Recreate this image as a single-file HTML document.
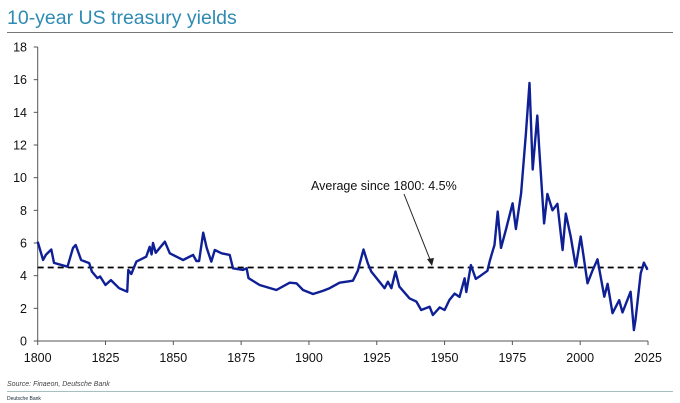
<!DOCTYPE html>
<html><head><meta charset="utf-8"><style>
body{margin:0;background:#fff;}
svg{display:block;font-family:"Liberation Sans",Arial,sans-serif;}
</style></head><body>
<svg width="680" height="403" viewBox="0 0 680 403">
<text x="7" y="24" font-size="19.5" fill="#2e8bb3">10-year US treasury yields</text>
<line x1="7" y1="32.5" x2="673" y2="32.5" stroke="#777" stroke-width="1"/>
<g id="axes"></g>
<g id="plot"></g>
<text x="311" y="190" font-size="12.5" fill="#111">Average since 1800: 4.5%</text>
<line x1="404" y1="194" x2="431" y2="262" stroke="#222" stroke-width="1"/>
<polygon points="432,266 427,259 434,258" fill="#222"/>
<text x="7" y="386" font-size="7" font-style="italic" fill="#444">Source: Finaeon, Deutsche Bank</text>
<line x1="7" y1="391.5" x2="673" y2="391.5" stroke="#8aa" stroke-width="0.8"/>
<text x="7" y="400" font-size="5" fill="#123">Deutsche Bank</text>
</svg>
<script>
const years=[1800,1802,1803,1805,1806,1811,1813,1814,1816,1819,1820,1822,1823,1825,1827,1830,1833,1833.4,1834.5,1836.4,1840,1841.3,1842,1842.5,1843.5,1846.9,1848.7,1853.6,1857.3,1858.5,1859.5,1861,1862.3,1864,1865.3,1867.8,1870.8,1872,1875.7,1877,1877.7,1881.8,1888,1892.9,1895.4,1897.8,1901.5,1905,1907.6,1911.3,1913.8,1916.2,1918,1920.1,1921.7,1923,1927.9,1929.1,1930.4,1931.9,1933.3,1937.1,1939.6,1941.4,1944.5,1945.7,1948.2,1950,1951.8,1953.7,1955.5,1957.4,1958,1959.7,1961.5,1963.3,1965.8,1966.6,1967.5,1968.4,1969.6,1970.8,1972.7,1975.1,1976.3,1978.2,1980,1981.3,1982.5,1984.2,1984.9,1986.7,1987.9,1989.8,1991.6,1993.5,1994.7,1996.5,1998.4,2000.2,2002.7,2004.5,2006.4,2008.9,2010.1,2011.9,2014.4,2015.6,2018.6,2019.8,2020.4,2022.3,2023.5,2024.8];
const yields=[6.08,4.96,5.27,5.6,4.78,4.55,5.7,5.88,4.96,4.77,4.25,3.85,3.95,3.43,3.73,3.23,3.02,4.35,4.1,4.86,5.16,5.77,5.3,6.0,5.4,6.08,5.37,4.96,5.27,4.9,4.9,6.63,5.7,4.86,5.57,5.37,5.27,4.45,4.35,4.45,3.85,3.43,3.12,3.57,3.53,3.12,2.88,3.06,3.23,3.57,3.63,3.69,4.3,5.6,4.76,4.25,3.23,3.63,3.23,4.25,3.33,2.61,2.41,1.9,2.1,1.59,2.06,1.9,2.51,2.9,2.7,3.84,3.0,4.65,3.8,4.0,4.3,4.86,5.37,5.88,7.92,5.7,6.86,8.43,6.86,9.04,12.7,15.8,10.5,13.8,11.8,7.2,9.0,8.0,8.4,5.57,7.8,6.4,4.55,6.4,3.53,4.3,5.0,2.71,3.5,1.7,2.5,1.75,3.02,0.67,1.3,4.14,4.8,4.35];
const average=4.5;
const yTicks=[0,2,4,6,8,10,12,14,16,18];
const xTicks=[1800,1825,1850,1875,1900,1925,1950,1975,2000,2025];
const NS='http://www.w3.org/2000/svg';
const X0=37.7,X1=648,Y0=341,Y1=47;
const xs=y=>X0+(y-1800)/225*(X1-X0);
const ys=v=>Y0-v/18*(Y0-Y1);
function mk(t,a,p){const e=document.createElementNS(NS,t);for(const k in a)e.setAttribute(k,a[k]);p.appendChild(e);return e;}
const ax=document.getElementById('axes'),pl=document.getElementById('plot');
const yl=mk('line',{x1:X0,y1:Y1,x2:X0,y2:Y0,stroke:'#555','stroke-width':1},ax);


const xl=mk('line',{x1:X0,y1:Y0,x2:X1,y2:Y0,stroke:'#555','stroke-width':1},ax);


yTicks.forEach(v=>{
 const t=mk('line',{x1:X0-4,y1:ys(v),x2:X0,y2:ys(v),stroke:'#555'},ax);
 
 
 const l=mk('text',{x:27,y:ys(v)+4.5,'font-size':12.5,'text-anchor':'end',fill:'#111'},ax);
 l.textContent=v;
 
 
});
xTicks.forEach(v=>{
 const t=mk('line',{x1:xs(v),y1:Y0,x2:xs(v),y2:Y0+4,stroke:'#555'},ax);
 
 
 const l=mk('text',{x:xs(v),y:Y0+21,'font-size':12.5,'text-anchor':'middle',fill:'#111'},ax);
 l.textContent=v;
 
 
});
const avg=mk('line',{x1:X0,y1:ys(average),x2:X1,y2:ys(average),stroke:'#000','stroke-width':1.8,'stroke-dasharray':'6 4'},pl);


let d='';years.forEach((y,i)=>{d+=(i?'L':'M')+xs(y).toFixed(1)+','+ys(yields[i]).toFixed(1);});
const p=mk('path',{d:d,fill:'none',stroke:'#0f1f96','stroke-width':2.4,'stroke-linejoin':'round'},pl);


</script>
</body></html>
